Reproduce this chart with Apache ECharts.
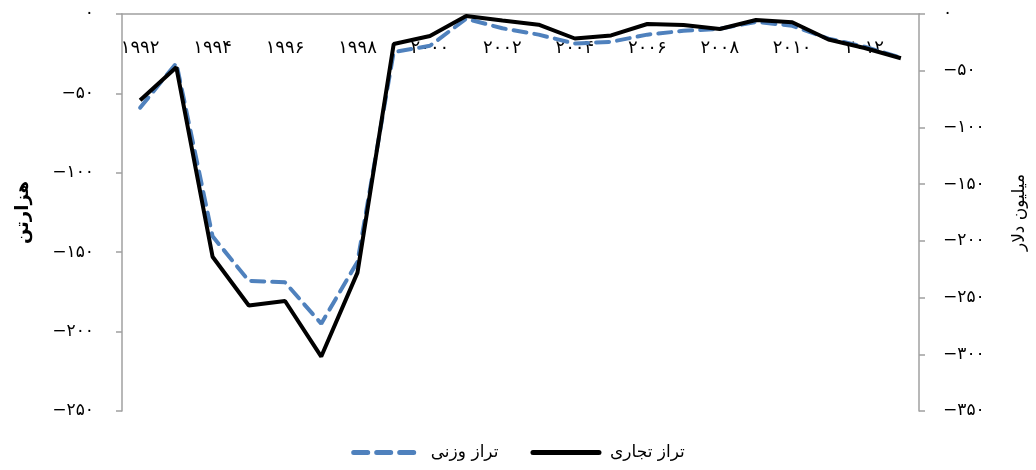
<!DOCTYPE html>
<html><head><meta charset="utf-8">
<script src="https://cdn.jsdelivr.net/npm/echarts@6/dist/echarts.min.js"></script>
<style>html,body{margin:0;padding:0;background:#fff}#c{width:1036px;height:470px}</style>
</head><body><div id="c"></div>
<script>
const years = [1992,1993,1994,1995,1996,1997,1998,1999,2000,2001,2002,2003,2004,2005,2006,2007,2008,2009,2010,2011,2012,2013];
const weightBalance = [-59,-31,-140,-168,-169,-195,-156,-24,-20,-3,-9,-13,-18.6,-17.5,-13,-10.6,-9.3,-5,-7.4,-15.5,-20.6,-27.5];
const tradeBalance = [-76,-47,-214,-257,-253,-302,-228,-26.5,-19.4,-1.8,-5.8,-9.4,-21.6,-18.9,-8.8,-9.7,-13.2,-5.3,-7.3,-22.5,-30,-39];
const seriesNames = ['تراز وزنی','تراز تجاری'];
const leftAxisName = 'هزارتن';
const rightAxisName = 'میلیون دلار';

const fa = s => String(s).replace(/[0-9]/g, d => '۰۱۲۳۴۵۶۷۸۹'[d]);
const FONT = 'DejaVu Sans';
const axisColor = '#a0a0a0';

const chart = echarts.init(document.getElementById('c'), null, {renderer:'canvas'});
chart.setOption({
  animation:false,
  textStyle:{fontFamily:FONT},
  grid:{left:122,right:113,top:14,bottom:59,containLabel:false},
  legend:{
    bottom:4, left:'center', itemWidth:66, itemHeight:10, itemGap:32,
    textStyle:{fontFamily:FONT,fontSize:17,color:'#000',padding:[0,0,0,6]},
    itemStyle:{opacity:0},
    data:[
      {name:seriesNames[0], lineStyle:{width:5,type:[14,9],cap:'round',color:'#4f81bd'}},
      {name:seriesNames[1], lineStyle:{width:5,type:'solid',cap:'round',color:'#000'}}
    ]
  },
  xAxis:{
    type:'category', data:years, position:'top', boundaryGap:true,
    axisLine:{lineStyle:{color:axisColor,width:1.5}},
    axisTick:{inside:true,length:8,interval:0,lineStyle:{color:axisColor,width:1.5}},
    axisLabel:{inside:true,interval:1,margin:25,fontSize:18,color:'#000',fontFamily:FONT,formatter:v=>fa(v)},
    splitLine:{show:false}
  },
  yAxis:[{
    type:'value', min:-250, max:0, interval:50, position:'left',
    name:leftAxisName, nameLocation:'middle', nameGap:90, nameRotate:90,
    nameTextStyle:{fontFamily:FONT,fontSize:18,fontWeight:'bold',color:'#000'},
    axisLine:{show:true,lineStyle:{color:axisColor,width:1.5}},
    axisTick:{show:true,length:6,lineStyle:{color:axisColor,width:1.5}},
    axisLabel:{margin:28,fontSize:17,color:'#000',fontFamily:FONT,formatter:v=>fa(v).replace('-','−')},
    splitLine:{show:false}
  },{
    type:'value', min:-350, max:0, interval:50, position:'right',
    name:rightAxisName, nameLocation:'middle', nameGap:92, nameRotate:90,
    nameTextStyle:{fontFamily:FONT,fontSize:17,color:'#000'},
    axisLine:{show:true,lineStyle:{color:axisColor,width:1.5}},
    axisTick:{show:true,length:6,lineStyle:{color:axisColor,width:1.5}},
    axisLabel:{margin:24,fontSize:17,color:'#000',fontFamily:FONT,formatter:v=>fa(v).replace('-','−')},
    splitLine:{show:false}
  }],
  series:[{
    name:seriesNames[0], type:'line', yAxisIndex:0, data:weightBalance,
    symbol:'none', z:2,
    lineStyle:{color:'#4f81bd',width:4,type:[13,8],cap:'round'},
    itemStyle:{color:'#4f81bd'}
  },{
    name:seriesNames[1], type:'line', yAxisIndex:1, data:tradeBalance,
    symbol:'none', z:3,
    lineStyle:{color:'#000',width:4},
    itemStyle:{color:'#000'}
  }]
});
</script></body></html>
